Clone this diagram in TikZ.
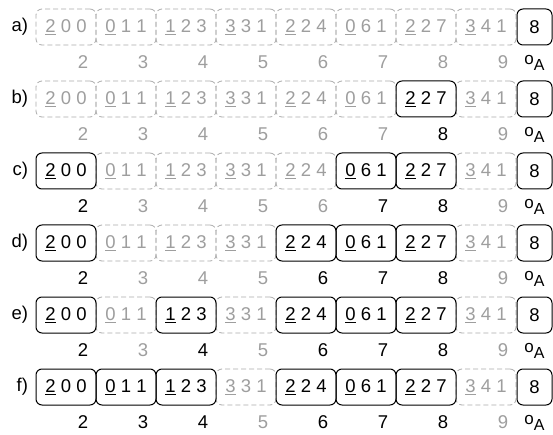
\documentclass[tikz,border=0pt]{standalone}
\usepackage{fontspec}
\setmainfont{Liberation Sans}
\newcommand\boxtxt[1]{\ifcase#1 \underline{2} 0 0\or \underline{0} 1 1\or \underline{1} 2 3\or \underline{3} 3 1\or \underline{2} 2 4\or \underline{0} 6 1\or \underline{2} 2 7\or \underline{3} 4 1\fi}
\newcommand\oAlabel{{\fontsize{17}{17}\selectfont o\raisebox{-6pt}{\fontsize{16}{16}\selectfont A}}}
\begin{document}
\begin{tikzpicture}[x=1pt,y=-1pt,
  every node/.style={font=\fontsize{18.5}{20}\selectfont},
  boxbase/.style={rounded corners=6pt, minimum width=60pt, minimum height=36pt, inner sep=0pt},
  dbox/.style={boxbase, draw=black!33, dash pattern=on 5pt off 3pt, line width=0.8pt, text=black!38},
  sbox/.style={boxbase, draw=black, line width=1pt, text=black},
  glab/.style={text=black!38},
  blab/.style={text=black},
  rowlab/.style={anchor=east, text=black}]
\useasboundingbox (0,0) rectangle (553,435);
\foreach \lab/\flags [count=\r from 0] in {a/{0,0,0,0,0,0,0,0}, b/{0,0,0,0,0,0,1,0}, c/{1,0,0,0,0,1,1,0}, d/{1,0,0,0,1,1,1,0}, e/{1,0,1,0,1,1,1,0}, f/{1,1,1,0,1,1,1,0}} {
  \pgfmathsetmacro\yc{27+72*\r}
  \pgfmathsetmacro\yl{62+72*\r}
  \node[rowlab] (lab\r) at (31.5,\yc) {\lab)};
  \foreach \f [count=\k from 0] in \flags {
    \ifnum\f=0
      \node[dbox] (b\r-\k) at ({66+60*\k},\yc) {\boxtxt{\k}};
      \node[glab] (n\r-\k) at ({83+60*\k},\yl) {\the\numexpr\k+2\relax};
    \fi
  }
  \foreach \f [count=\k from 0] in \flags {
    \ifnum\f=1
      \node[sbox] (b\r-\k) at ({66+60*\k},\yc) {\boxtxt{\k}};
      \node[blab] (n\r-\k) at ({83+60*\k},\yl) {\the\numexpr\k+2\relax};
    \fi
  }
  \node[sbox, minimum width=35pt] (o\r) at (534.5,\yc) {8};
  \node[blab] (ol\r) at (534.5,\yl+1) {\oAlabel};
}
\end{tikzpicture}
\end{document}
